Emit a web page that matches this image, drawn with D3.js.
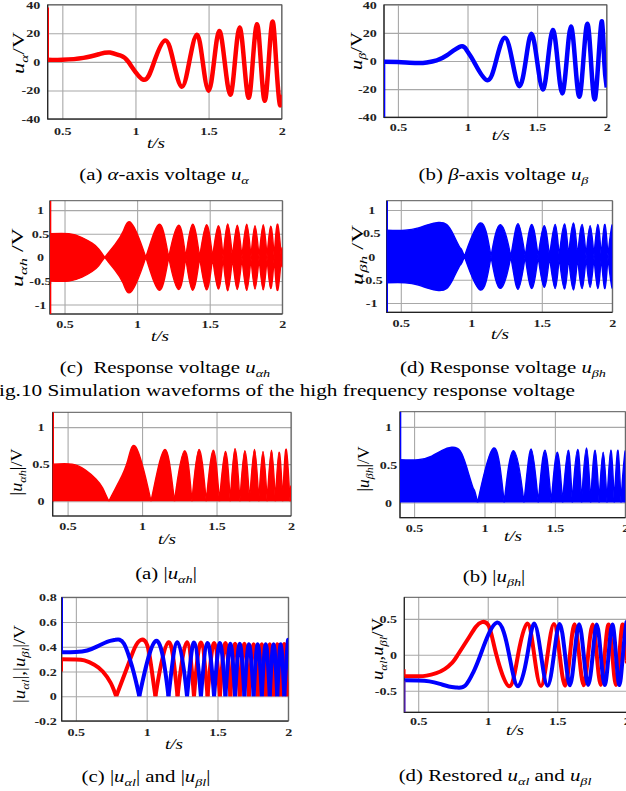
<!DOCTYPE html>
<html>
<head>
<meta charset="utf-8">
<script src="https://cdn.jsdelivr.net/npm/d3@7"></script>
<style>
  body { margin: 0; background: #fff; }
  text { font-family: "Liberation Serif", "Times New Roman", serif; white-space: pre; }
</style>
</head>
<body>
<svg id="fig" width="626" height="791"></svg>
<script>
// ---- data (t in s, values in V) ----
var xTicks = [0.5, 1, 1.5, 2];

// (a) u_alpha
var tA = [0.4, 0.5, 0.644, 0.758, 0.826, 0.895, 0.952, 1.055, 1.128, 1.203, 1.26, 1.317, 1.368, 1.42, 1.46, 1.5, 1.537, 1.573, 1.61, 1.648, 1.68, 1.712, 1.743, 1.774, 1.802, 1.831, 1.857, 1.884, 1.911, 1.938, 1.962, 1.986, 2.0];
var uA = [1.4, 1.5, 2.8, 5.6, 6.5, 4.5, 0, -12.5, 0, 15, 0, -17.4, 0, 19, 0, -20.2, 0, 21.6, 0, -23, 0, 24, 0, -25.2, 0, 26.4, 0, -27.3, 0, 28.2, 0, -29.2, -23];
// (b) u_beta
var tB = [0.4, 0.5, 0.635, 0.707, 0.779, 0.851, 0.952, 0.995, 1.043, 1.139, 1.205, 1.267, 1.322, 1.373, 1.418, 1.459, 1.5, 1.541, 1.577, 1.613, 1.647, 1.68, 1.712, 1.743, 1.773, 1.803, 1.832, 1.861, 1.887, 1.913, 1.94, 1.966, 1.982, 2.0];
var uB = [-0.5, -0.7, -1.4, -1, 0.5, 4, 10.4, 7.5, 0, -13.6, 0, 16.5, 0, -17.9, 0, 19.3, 0, -20.2, 0, 22.1, 0, -23, 0, 24.5, 0, -25.4, 0, 26.4, 0, -27.3, 0, 28.2, 0, -18.8];
var uTicks = [-40, -20, 0, 20, 40];

// envelope of u_alpha_h (signed lobes), used in (c) and as |.| in the 2nd figure
var tAh = [0.4, 0.53, 0.62, 0.69, 0.735, 0.777, 0.847, 0.904, 0.959, 1.06, 1.154, 1.218, 1.287, 1.335, 1.383, 1.431, 1.479, 1.52, 1.56, 1.592, 1.624, 1.657, 1.69, 1.722, 1.755, 1.784, 1.812, 1.84, 1.869, 1.895, 1.92, 1.944, 1.968, 1.993, 2.0];
var eAh = [0.5, 0.5, 0.42, 0.3, 0.18, 0, -0.27, -0.55, -0.73, 0, 0.70, 0, -0.68, 0, 0.70, 0, -0.69, 0, 0.67, 0, -0.71, 0, 0.68, 0, -0.70, 0, 0.67, 0, -0.69, 0, 0.66, 0, -0.70, 0, 0.2];
// envelope of u_beta_h
var tBh = [0.4, 0.53, 0.625, 0.696, 0.767, 0.826, 0.873, 0.921, 0.951, 1.063, 1.14, 1.206, 1.28, 1.331, 1.382, 1.429, 1.474, 1.517, 1.555, 1.595, 1.624, 1.662, 1.69, 1.725, 1.754, 1.786, 1.814, 1.843, 1.87, 1.897, 1.922, 1.948, 1.97, 1.995, 2.0];
var eBh = [0.565, 0.565, 0.614, 0.686, 0.73, 0.686, 0.47, 0.186, 0, -0.72, 0, 0.686, 0, -0.707, 0, 0.69, 0, -0.664, 0, 0.69, 0, -0.70, 0, 0.72, 0, -0.69, 0, 0.664, 0, -0.69, 0, 0.69, 0, -0.63, -0.62];
var hTicks = [-1, -0.5, 0, 0.5, 1];
var absTicks = [0, 0.5, 1];

// restored low frequency u_alpha_l, u_beta_l
var tAl = [0.4, 0.5, 0.56, 0.63, 0.69, 0.745, 0.785, 0.86, 0.915, 0.958, 1.01, 1.062, 1.154, 1.218, 1.285, 1.334, 1.383, 1.43, 1.476, 1.517, 1.556, 1.591, 1.624, 1.657, 1.69, 1.722, 1.755, 1.784, 1.813, 1.841, 1.869, 1.896, 1.922, 1.947, 1.972, 1.995, 2.0];
var uAl = [-0.3, -0.298, -0.29, -0.255, -0.2, -0.11, 0, 0.227, 0.39, 0.455, 0.39, 0, -0.437, 0, 0.437, 0, -0.435, 0, 0.43, 0, -0.43, 0, 0.425, 0, -0.425, 0, 0.42, 0, -0.42, 0, 0.42, 0, -0.42, 0, 0.42, 0, -0.08];
var tBl = [0.4, 0.5, 0.58, 0.656, 0.72, 0.778, 0.84, 0.897, 0.948, 1.065, 1.154, 1.218, 1.285, 1.334, 1.383, 1.43, 1.476, 1.517, 1.556, 1.591, 1.624, 1.657, 1.69, 1.722, 1.755, 1.784, 1.813, 1.841, 1.869, 1.896, 1.922, 1.947, 1.972, 1.995, 2.0];
var uBl = [-0.355, -0.357, -0.37, -0.405, -0.44, -0.456, -0.425, -0.24, 0, 0.447, 0, -0.437, 0, 0.435, 0, -0.43, 0, 0.43, 0, -0.425, 0, 0.425, 0, -0.42, 0, 0.42, 0, -0.42, 0, 0.42, 0, -0.42, 0, 0.42, 0.418];
var lAbsTicks = [-0.2, 0, 0.2, 0.4, 0.6, 0.8];
var lTicks = [-0.5, 0, 0.5];

// start-up transients drawn on the left edge (t = 0.4)
var edgeA = [1.4, 38], edgeB = [-0.5, -40];
var edgeAh = [-1.2, 1.2], edgeBh = [-1.2, 1.2];
var edgeAhAbs = [0, 1.2], edgeBhAbs = [0.57, 1.2];
var edgeAlAbs = [0.2, 0.3], edgeBlAbs = [0.35, 0.8];
var edgeAl = [-0.3, -0.2], edgeBl = [-0.8, -0.36];

var RED = '#ff0000', BLUE = '#0000ff';
var SX = 1.28;   // the source picture is stretched horizontally
var svg = d3.select('#fig');
var clipN = 0;

function rich(sel, segs, size) {
  var prevSub = false;
  segs.forEach(function (s) {
    var ts = sel.append('tspan').text(s[0]);
    var f = s[1] || '';
    if (f.indexOf('i') >= 0) ts.style('font-style', 'italic');
    var sub = f.indexOf('s') >= 0;
    if (sub) {
      ts.attr('font-size', size * 0.68);
      if (!prevSub) ts.attr('dy', size * 0.26);
    } else if (prevSub) {
      ts.attr('dy', -size * 0.26);
    }
    prevSub = sub;
  });
}

function caption(x, y, segs, anchor, size) {
  var fs = size || 16.3;
  var t = svg.append('text')
    .attr('transform', 'translate(' + x + ',' + y + ') scale(' + SX + ',1)')
    .attr('text-anchor', anchor || 'middle')
    .attr('font-size', fs);
  rich(t, segs, fs);
}

function clipRect(x0, y0, x1, y1) {
  var id = 'clip' + (clipN++);
  svg.append('clipPath').attr('id', id).append('rect')
    .attr('x', x0).attr('y', y0).attr('width', x1 - x0).attr('height', y1 - y0);
  return 'url(#' + id + ')';
}

function panel(c) {
  var x = d3.scaleLinear().domain([0.4, 2]).range([c.L, c.R]);
  var y = d3.scaleLinear().domain(c.yd).range([c.B, c.T]);
  var g = svg.append('g');

  var gx = g.append('g').attr('transform', 'translate(0,' + c.B + ')')
    .call(d3.axisBottom(x).tickValues(xTicks).tickSize(-(c.B - c.T)).tickFormat(String));
  var gy = g.append('g').attr('transform', 'translate(' + c.L + ',0)')
    .call(d3.axisLeft(y).tickValues(c.yt).tickSize(-(c.R - c.L)).tickFormat(String));
  [gx, gy].forEach(function (a) {
    a.select('.domain').remove();
    a.selectAll('line').attr('stroke', '#a8a8a8').attr('stroke-width', 1.1);
    a.selectAll('text').attr('font-family', '"Liberation Serif", serif')
      .attr('font-weight', 'bold').attr('font-size', 11).attr('fill', '#222');
  });
  gx.selectAll('text').attr('y', c.tickY - c.B).attr('dy', null)
    .attr('transform', 'scale(' + SX + ',1)');
  // y tick labels: right aligned (gap) or centred on a column
  gy.selectAll('text')
    .attr('text-anchor', c.ymid ? 'middle' : 'end')
    .attr('x', -(c.ymid || c.pad) / SX)
    .attr('transform', 'scale(' + SX + ',1)');

  g.append('rect').attr('x', c.L).attr('y', c.T).attr('width', c.R - c.L).attr('height', c.B - c.T)
    .attr('fill', 'none').attr('stroke', '#555').attr('stroke-width', 1);
  g.append('path').attr('d', 'M' + c.L + ',' + c.T + 'V' + c.B + 'H' + c.R)
    .attr('fill', 'none').attr('stroke', '#222').attr('stroke-width', 1.2);

  // axis titles
  var xl = svg.append('text')
    .attr('transform', 'translate(' + c.xl[0] + ',' + c.xl[1] + ') scale(' + SX + ',1)')
    .attr('text-anchor', 'middle').attr('font-size', 15);
  rich(xl, [['t/s', 'i']], 15);
  var yl = svg.append('text')
    .attr('text-anchor', 'middle').attr('dy', '0.35em').attr('font-size', 16);
  rich(yl, c.ylab, 16);
  var len = yl.node().getComputedTextLength() || c.yl[2];
  yl.attr('transform', 'translate(' + c.yl[0] + ',' + c.yl[1] + ') rotate(-90) scale(' +
    (c.yl[2] / len) + ',1)');

  var plot = svg.append('g').attr('clip-path', clipRect(c.L, c.T, c.R, c.B));
  return { x: x, y: y, plot: plot, c: c };
}

function edge(p, vals, color, w) {
  p.plot.append('line')
    .attr('x1', p.x(0.4) + 0.5).attr('x2', p.x(0.4) + 0.5)
    .attr('y1', p.y(vals[0])).attr('y2', p.y(vals[1]))
    .attr('stroke', color).attr('stroke-width', w || 1.6);
}

function drawLine(parent, p, ts, vs, color, w, sign) {
  var s = sign || 1;
  var ln = d3.line().x(function (d) { return p.x(d[0]); })
    .y(function (d) { return p.y(s * d[1]); }).curve(d3.curveNatural);
  parent.append('path').attr('d', ln(d3.zip(ts, vs)))
    .attr('fill', 'none').attr('stroke', color).attr('stroke-width', w)
    .attr('stroke-linejoin', 'round');
}

function envArea(parent, p, ts, vs, color) {
  var a = d3.area().x(function (d) { return p.x(d[0]); })
    .y0(function (d) { return p.y(-d[1]); })
    .y1(function (d) { return p.y(d[1]); })
    .curve(d3.curveNatural);
  parent.append('path').attr('d', a(d3.zip(ts, vs))).attr('fill', color)
    .attr('stroke', color).attr('stroke-width', 1.4).attr('stroke-linejoin', 'round');
}

// ---------- (a) ----------
var pa = panel({ L: 47.7, R: 281.7, T: 4.7, B: 119, yd: [-40, 40], yt: uTicks, tickY: 135, pad: 7.5,
  xl: [156, 148], yl: [18, 53, 42], ylab: [['u', 'i'], ['α', 'is'], ['/V']] });
drawLine(pa.plot, pa, tA, uA, RED, 4.5);
edge(pa, edgeA, RED);
caption(164, 180, [['(a) '], ['α', 'i'], ['-axis voltage '], ['u', 'i'], ['α', 'is']]);

// ---------- (b) ----------
var pb = panel({ L: 384, R: 606.7, T: 4.7, B: 117.3, yd: [-40, 40], yt: uTicks, tickY: 131, pad: 7.3,
  xl: [500.7, 140], yl: [356, 51, 38], ylab: [['u', 'i'], ['β', 'is'], ['/V']] });
drawLine(pb.plot, pb, tB, uB, BLUE, 4.5);
edge(pb, edgeB, BLUE);
caption(503.5, 180, [['(b) '], ['β', 'i'], ['-axis voltage '], ['u', 'i'], ['β', 'is']]);

// ---------- (c) ----------
var pc = panel({ L: 50, R: 282.3, T: 200.7, B: 314, yd: [-1.2, 1.2], yt: hTicks, tickY: 328, ymid: 9.5,
  xl: [160, 341], yl: [17.5, 257.5, 59], ylab: [['u', 'i'], ['αh', 'is'], [' /V']] });
envArea(pc.plot, pc, tAh, eAh, RED);
edge(pc, edgeAh, RED);
caption(165, 373, [['(c)  Response voltage '], ['u', 'i'], ['αh', 'is']]);

// ---------- (d) ----------
var pd = panel({ L: 386.7, R: 612.3, T: 200.7, B: 312.3, yd: [-1.2, 1.2], yt: hTicks, tickY: 327, ymid: 15,
  xl: [500, 339], yl: [357, 255, 60], ylab: [['u', 'i'], ['βh', 'is'], [' /V']] });
envArea(pd.plot, pd, tBh, eBh, BLUE);
edge(pd, edgeBh, BLUE);
caption(503, 373, [['(d) Response voltage '], ['u', 'i'], ['βh', 'is']]);

caption(575, 396, [['Fig.10 Simulation waveforms of the high frequency response voltage']], 'end', 16.6);

// ---------- (a) |u_ah| ----------
var pe = panel({ L: 52.7, R: 291, T: 412.3, B: 516, yd: [-0.2, 1.2], yt: absTicks, tickY: 530, ymid: 11.7,
  xl: [167, 544], yl: [16, 472, 47], ylab: [['|'], ['u', 'i'], ['αh', 'is'], ['|/V']] });
var pe2 = pe.plot.append('g').attr('clip-path', clipRect(pe.c.L, pe.c.T, pe.c.R, pe.y(0)));
envArea(pe2, pe, tAh, eAh, RED);
edge(pe, edgeAhAbs, RED);
caption(166, 579, [['(a) |'], ['u', 'i'], ['αh', 'is'], ['|']]);

// ---------- (b) |u_bh| ----------
var pf = panel({ L: 400, R: 625.3, T: 411.7, B: 517.7, yd: [-0.2, 1.2], yt: absTicks, tickY: 532, ymid: 11.5,
  xl: [513, 541], yl: [363, 469, 45], ylab: [['|'], ['u', 'i'], ['βh', 'is'], ['|/V']] });
var pf2 = pf.plot.append('g').attr('clip-path', clipRect(pf.c.L, pf.c.T, pf.c.R, pf.y(0)));
envArea(pf2, pf, tBh, eBh, BLUE);
edge(pf, edgeBhAbs, BLUE);
caption(494, 582, [['(b) |'], ['u', 'i'], ['βh', 'is'], ['|']]);

// ---------- (c) |u_al| and |u_bl| ----------
var pg = panel({ L: 61.7, R: 288.3, T: 597.3, B: 721, yd: [-0.2, 0.8], yt: lAbsTicks, tickY: 736, pad: 5,
  xl: [174, 749], yl: [19, 664, 78],
  ylab: [['|'], ['u', 'i'], ['αl', 'is'], ['|,|'], ['u', 'i'], ['βl', 'is'], ['|/V']] });
var pg2 = pg.plot.append('g').attr('clip-path', clipRect(pg.c.L, pg.c.T, pg.c.R, pg.y(0)));
drawLine(pg2, pg, tAl, uAl, RED, 4, 1);
drawLine(pg2, pg, tAl, uAl, RED, 4, -1);
drawLine(pg2, pg, tBl, uBl, BLUE, 4, 1);
drawLine(pg2, pg, tBl, uBl, BLUE, 4, -1);
edge(pg, edgeAlAbs, RED);
edge(pg, edgeBlAbs, BLUE);
caption(146, 782, [['(c) |'], ['u', 'i'], ['αl', 'is'], ['| and |'], ['u', 'i'], ['βl', 'is'], ['|']]);

// ---------- (d) restored u_al, u_bl ----------
var ph = panel({ L: 404.3, R: 626.8, T: 597.3, B: 712.3, yd: [-0.8, 0.8], yt: lTicks, tickY: 725, pad: 7.3,
  xl: [515, 735], yl: [377, 649, 62],
  ylab: [['u', 'i'], ['αl', 'is'], [','], ['u', 'i'], ['βl', 'is'], ['/V']] });
drawLine(ph.plot, ph, tAl, uAl, RED, 4);
drawLine(ph.plot, ph, tBl, uBl, BLUE, 4);
edge(ph, edgeAl, RED);
edge(ph, edgeBl, '#5a20c0');
caption(495, 781, [['(d) Restored '], ['u', 'i'], ['αl', 'is'], [' and '], ['u', 'i'], ['βl', 'is']]);
</script>
</body>
</html>
